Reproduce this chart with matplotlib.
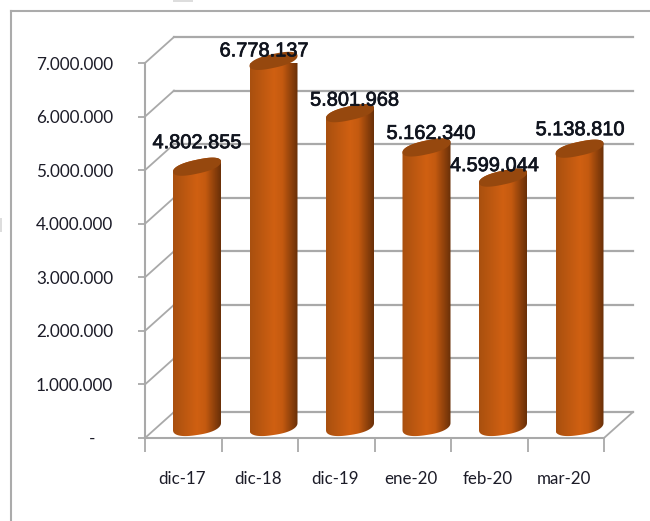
#!/usr/bin/env python
# coding: utf-8
import matplotlib
matplotlib.use('Agg')
import matplotlib.pyplot as plt
import matplotlib.patheffects as pe
from matplotlib.colors import LinearSegmentedColormap
from matplotlib.patches import Polygon, Rectangle
import numpy as np

categories = ['dic-17', 'dic-18', 'dic-19', 'ene-20', 'feb-20', 'mar-20']
values = [4802855, 6778137, 5801968, 5162340, 4599044, 5138810]
value_labels = ['4.802.855', '6.778.137', '5.801.968', '5.162.340', '4.599.044', '5.138.810']
y_ticks = [0, 1000000, 2000000, 3000000, 4000000, 5000000, 6000000, 7000000]
y_tick_labels = ['-    ', '1.000.000', '2.000.000', '3.000.000', '4.000.000',
                 '5.000.000', '6.000.000', '7.000.000']

#settings
W, H = 650, 521
left, right, bottom, top = 145, 604, 438, 63   # front plane of the 3d box, pixels
depth_x, depth_y = 29, 26                      # how far the back wall is shifted
grid_color = '#a9a9a9'
text_color = '#1c1c28'
bar_cmap = LinearSegmentedColormap.from_list(
    'cyl', [(0, '#a9500f'), (0.5, '#d06012'), (0.68, '#c45a10'), (1, '#6a3008')])

px_x = 6.0 / (right - left)       # data units per pixel
px_y = 7000000.0 / (bottom - top)

fig = plt.figure(figsize=(W / 100, H / 100), dpi=100)
ax = fig.add_axes([left / W, 1 - bottom / H, (right - left) / W, (bottom - top) / H])
ax.patch.set_alpha(0)

for s in ['top', 'right']:
    ax.spines[s].set_visible(False)
for s in ['left', 'bottom']:
    ax.spines[s].set_color(grid_color)
    ax.spines[s].set_linewidth(1.5)

# back wall, side wall and floor
for t in y_ticks:
    ax.plot([0, depth_x * px_x], [t, t + depth_y * px_y], color=grid_color, lw=1.3, clip_on=False, zorder=1)
    ax.plot([depth_x * px_x, 6 + depth_x * px_x], [t + depth_y * px_y] * 2, color=grid_color, lw=1.6,
            clip_on=False, zorder=1)
ax.plot([6, 6 + depth_x * px_x], [0, depth_y * px_y], color=grid_color, lw=1.3, clip_on=False, zorder=1)

ax.set_yticks(y_ticks)
ax.set_yticklabels(y_tick_labels, fontname='Lato', fontsize=12.3, color=text_color)
ax.set_xticks(range(7))
ax.set_xticklabels([])
ax.set_xticks(np.arange(6) + 0.5 - 1.5 * px_x, minor=True)
ax.set_xticklabels(categories, minor=True, fontname='Lato', fontsize=12.2, color=text_color)
ax.tick_params(axis='y', length=5, width=1.3, color=grid_color, pad=18)
ax.tick_params(axis='x', which='major', length=10, width=1.3, color=grid_color)
ax.tick_params(axis='x', which='minor', length=0, pad=23.5)


def ellipse(a, tilt, b, start, stop, n=60):
    # slightly blunt ellipse, in pixels around its centre
    t = np.linspace(start, stop, n)
    c = np.sign(np.cos(t)) * np.abs(np.cos(t)) ** 0.8
    s = np.sign(np.sin(t)) * np.abs(np.sin(t)) ** 0.9
    return a * c, a * tilt * c + b * s


# cylinders
half = 24
base_off = 11.5
top_off = 14
for i, v in enumerate(values):
    cx = (i + 1) - (half + 0.5) * px_x
    lx, ly = ellipse(half, 0.15, 8.5, np.pi, 2 * np.pi)
    ux, uy = ellipse(half, 0.21, 7.0, 0, np.pi)
    xs = cx + np.r_[lx, ux] * px_x
    ys = np.r_[(base_off + ly) * px_y, v + (top_off + uy) * px_y]
    clip = Polygon(np.c_[xs, ys], closed=True, transform=ax.transData, fc='none', ec='none')
    ax.add_patch(clip)
    im = ax.imshow(np.linspace(0, 1, 64).reshape(1, -1), cmap=bar_cmap, aspect='auto', zorder=3,
                   extent=[cx - half * px_x, cx + half * px_x, 0, v + 30 * px_y])
    im.set_clip_path(clip)
    ex, ey = ellipse(half, 0.21, 7.0, 0, 2 * np.pi, 121)
    ax.fill(cx + ex * px_x, v + (top_off + ey) * px_y, color='#96480e', lw=0, zorder=4, clip_on=False)

ax.set_xlim(0, 6)
ax.set_ylim(0, 7000000)

# value labels sit where the original put them by hand
label_dx = [0, -9.5, 4.5, 4.5, -8.5, 0.5]
label_dy = [25, 11, 14, 15, 13, 20]
for i, v in enumerate(values):
    cx = (i + 1) - (half + 0.5) * px_x
    ax.annotate(value_labels[i], (cx, v + 13 * px_y), xytext=(label_dx[i] * 0.72, label_dy[i] * 0.72),
                textcoords='offset points', ha='center', va='center', fontname='Liberation Sans',
                fontsize=14.4, color='#10141e', zorder=6, annotation_clip=False,
                path_effects=[pe.withStroke(linewidth=0.5, foreground='#10141e')])

# chart frame and the cut off bits at the image edge
fig.add_artist(plt.Line2D([11 / W, 11 / W], [0, 1 - 11 / H], color='#ababab', lw=1.5))
fig.add_artist(plt.Line2D([11 / W, 1], [1 - 11 / H, 1 - 11 / H], color='#ababab', lw=1.5))
fig.add_artist(Rectangle((173 / W, 1 - 2 / H), 20 / W, 2 / H, color='#dddddd', lw=0))
fig.add_artist(Rectangle((0, 1 - 232 / H), 2 / W, 14 / H, color='#dddddd', lw=0))

plt.savefig('out.png', dpi=100)
